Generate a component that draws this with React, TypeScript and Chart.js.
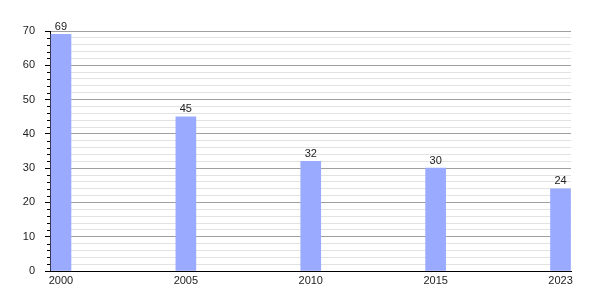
import React, { useEffect, useRef } from "react";
import { Chart, registerables } from "chart.js";

Chart.register(...registerables);

const categories = ["2000", "2005", "2010", "2015", "2023"];
const values = [69, 45, 32, 30, 24];
const yMax = 70;

const FONT = "'Liberation Sans', Arial, sans-serif";

const valueLabels = {
  id: "valueLabels",
  afterDatasetsDraw(chart: any) {
    const ctx = chart.ctx;
    const meta = chart.getDatasetMeta(0);
    ctx.save();
    ctx.font = `11px ${FONT}`;
    ctx.fillStyle = "#222";
    ctx.textAlign = "center";
    ctx.textBaseline = "bottom";
    meta.data.forEach((el: any, i: number) => {
      ctx.fillText(String(values[i]), el.x, el.y - 2);
    });
    ctx.restore();
  },
};

const minorTicks = {
  id: "minorTicks",
  afterDraw(chart: any) {
    const ctx = chart.ctx;
    const y = chart.scales.y;
    const left = chart.chartArea.left;
    ctx.save();
    ctx.strokeStyle = "#000";
    ctx.lineWidth = 1;
    y.ticks.forEach((t: any) => {
      if (t.value % 10 !== 0) {
        const py = Math.round(y.getPixelForValue(t.value)) + 0.5;
        ctx.beginPath();
        ctx.moveTo(left - 3, py);
        ctx.lineTo(left, py);
        ctx.stroke();
      }
    });
    ctx.restore();
  },
};

export default function App() {
  const ref = useRef<HTMLCanvasElement>(null);
  useEffect(() => {
    if (!ref.current) return;
    const chart = new Chart(ref.current, {
      type: "bar",
      data: {
        datasets: [
          {
            data: values.map((v, i) => ({ x: i, y: v })),
            backgroundColor: "#99aaff",
            borderWidth: 0,
            barThickness: 20,
          },
        ],
      },
      options: {
        animation: false,
        responsive: false,
        maintainAspectRatio: false,
        layout: { padding: { top: 31, right: 29, left: 0, bottom: 0 } },
        plugins: { legend: { display: false }, tooltip: { enabled: false } },
        scales: {
          x: {
            type: "linear",
            offset: false,
            min: -0.088,
            max: 4.084,
            afterBuildTicks: (scale: any) => {
              scale.ticks = categories.map((_, i) => ({ value: i }));
            },
            afterFit: (scale: any) => {
              scale.height = 29;
            },
            grid: { display: false, drawTicks: false, offset: false },
            border: { display: true, color: "#000", width: 1 },
            ticks: {
              autoSkip: false,
              maxRotation: 0,
              padding: 3,
              color: "#222",
              font: { family: FONT, size: 11 },
              callback: (v: any) => categories[v as number] ?? "",
            },
          },
          y: {
            min: 0,
            max: yMax,
            afterFit: (scale: any) => {
              scale.width = 50;
            },
            grid: {
              color: (c: any) => (c.tick && c.tick.value % 10 === 0 ? "#a0a0a0" : "#e2e2e2"),
              tickColor: (c: any) => (c.tick && c.tick.value % 10 === 0 ? "#000" : "rgba(0,0,0,0)"),
              tickLength: 5,
              drawTicks: true,
            },
            border: { display: true, color: "#000", width: 1 },
            ticks: {
              stepSize: 2,
              autoSkip: false,
              padding: 10,
              color: "#222",
              font: { family: FONT, size: 11 },
              callback: (v: any) => (Number(v) % 10 === 0 ? String(v) : ""),
            },
          },
        },
      },
      plugins: [valueLabels, minorTicks],
    });
    return () => chart.destroy();
  }, []);
  return (
    <div style={{ position: "absolute", left: 0, top: 0, width: 600, height: 300, background: "#fff" }}>
      <canvas ref={ref} width={600} height={300} />
    </div>
  );
}
